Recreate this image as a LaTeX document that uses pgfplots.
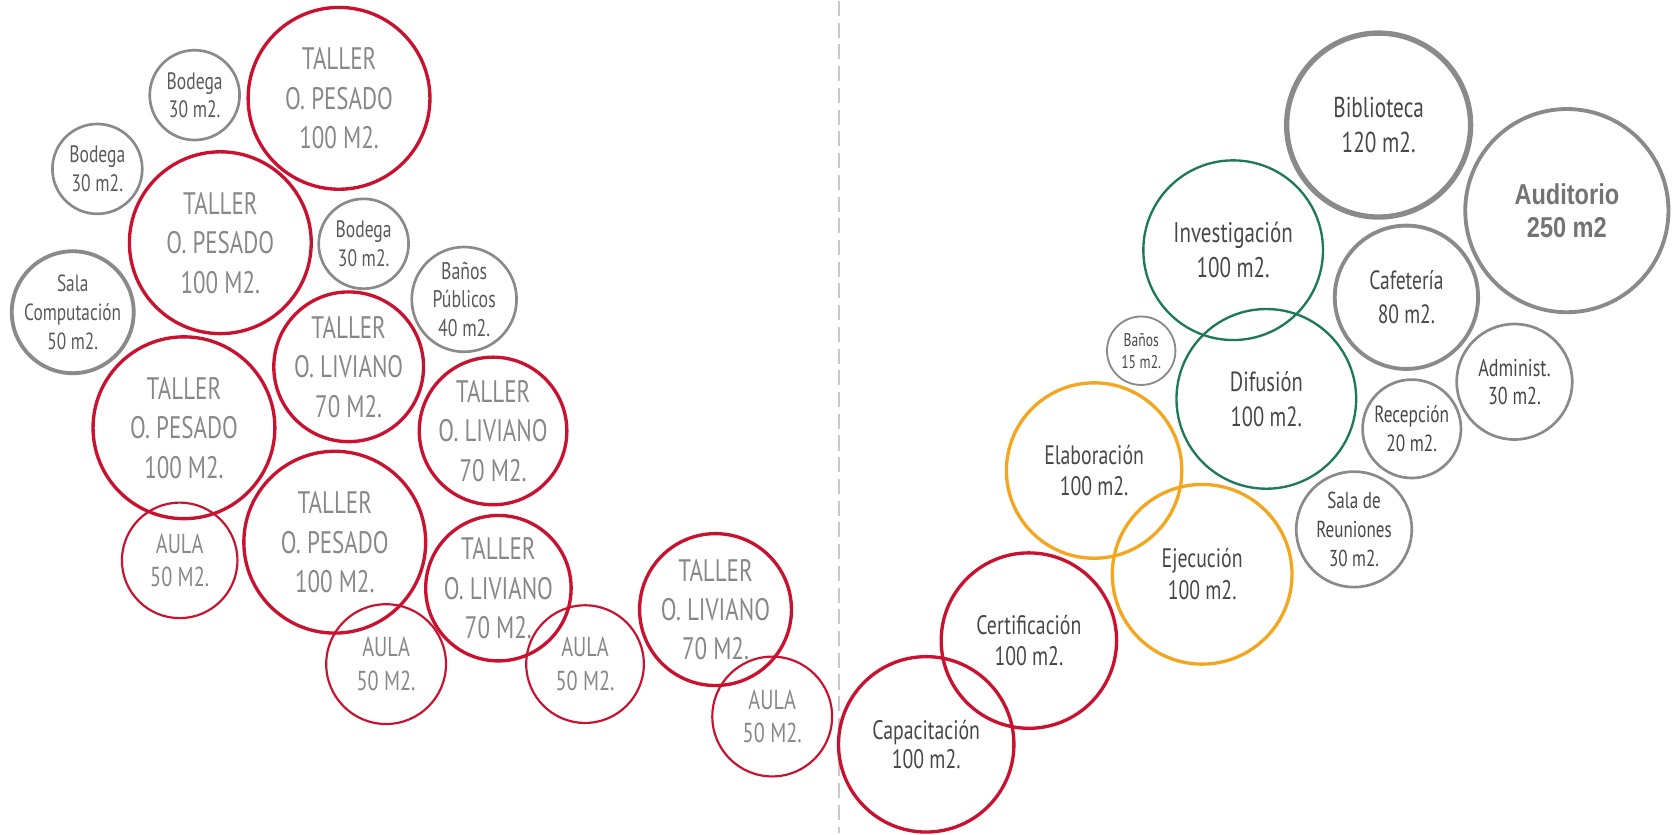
\documentclass[border=0pt]{standalone}
\usepackage{pgfplots}
\pgfplotsset{compat=1.18}
\usepackage{fontspec}
\setmainfont{PT Sans}[FakeStretch=0.74]
\newfontfamily\narrowfont{Liberation Sans}[FakeStretch=0.82]
\definecolor{redc}{RGB}{200,18,48}
\definecolor{orc}{RGB}{243,167,32}
\definecolor{grc}{RGB}{30,120,90}
\definecolor{gyc}{RGB}{138,138,138}
\definecolor{tlight}{RGB}{136,136,136}
\definecolor{tmid}{RGB}{90,90,90}
\definecolor{tdark}{RGB}{72,72,72}
\definecolor{taud}{RGB}{115,115,115}
\definecolor{dashc}{RGB}{200,200,200}
% style, x, y, radius, font size, baselineskip, text colour, label
\newcommand{\bub}[8]{%
  \addplot[#1, only marks, mark=o, mark size={#4*0.32pt},
    nodes near coords={#8},
    every node near coord/.append style={anchor=center, align=center, inner sep=0pt,
      text=#7, font=\fontsize{#5}{#6}\selectfont}]
    coordinates {(#2,#3)};}
\begin{document}
\begin{tikzpicture}
\begin{axis}[
  x=0.32pt, y=0.32pt, y dir=reverse,
  xmin=0, xmax=1568, ymin=0, ymax=778,
  axis line style={draw=none}, ticks=none, clip=false,
  redT/.style={draw=redc, mark options={line width=1.0pt}},
  redt/.style={draw=redc, mark options={line width=0.65pt}},
  orT/.style={draw=orc, mark options={line width=1.0pt}},
  grT/.style={draw=grc, mark options={line width=0.7pt}},
  gyT/.style={draw=gyc, mark options={line width=1.15pt}},
  gyB/.style={draw=gyc, mark options={line width=1.6pt}},
  gyt/.style={draw=gyc, mark options={line width=0.8pt}},
  gyx/.style={draw=gyc, mark options={line width=0.55pt}},
]
\addplot[dashc, line width=0.6pt, dash pattern=on 4.5pt off 2pt] coordinates {(784,0) (784,778)};
% left cluster
\bub{redT}{317}{91}{85}{9.3}{11.8}{tlight}{TALLER\\O. PESADO\\100 M2.}
\bub{gyt}{182}{88}{42}{7.1}{8.5}{tmid}{Bodega\\30 m2.}
\bub{gyt}{91}{157}{42}{7.1}{8.5}{tmid}{Bodega\\30 m2.}
\bub{redT}{206}{226}{85}{9.3}{11.8}{tlight}{TALLER\\O. PESADO\\100 M2.}
\bub{gyt}{340}{227}{42}{7.1}{8.5}{tmid}{Bodega\\30 m2.}
\bub{gyT}{68}{291}{57}{7.0}{8.6}{tmid}{Sala\\Computación\\50 m2.}
\bub{gyt}{434}{279}{49}{7.2}{8.5}{tmid}{Baños\\Públicos\\40 m2.}
\bub{redT}{326}{342}{70}{9.3}{11.8}{tlight}{TALLER\\O. LIVIANO\\70 M2.}
\bub{redT}{172}{399}{85}{9.3}{11.8}{tlight}{TALLER\\O. PESADO\\100 M2.}
\bub{redT}{461}{402}{69}{9.3}{11.8}{tlight}{TALLER\\O. LIVIANO\\70 M2.}
\bub{redt}{168}{523}{54}{8.2}{10}{tlight}{AULA\\50 M2.}
\bub{redT}{313}{506}{85}{9.3}{11.8}{tlight}{TALLER\\O. PESADO\\100 M2.}
\bub{redT}{466}{549}{68}{9.3}{11.8}{tlight}{TALLER\\O. LIVIANO\\70 M2.}
\bub{redt}{361}{620}{56}{8.2}{10}{tlight}{AULA\\50 M2.}
\bub{redt}{547}{620}{55}{8.2}{10}{tlight}{AULA\\50 M2.}
\bub{redT}{669}{569}{71}{9.3}{11.8}{tlight}{TALLER\\O. LIVIANO\\70 M2.}
\bub{redt}{722}{669}{56}{8.2}{10}{tlight}{AULA\\50 M2.}
% right cluster
\bub{redT}{866}{695}{82}{8.0}{8.8}{tdark}{Capacitación\\100 m2.}
\bub{redT}{962}{598}{82}{8.0}{9.2}{tdark}{Certificación\\100 m2.}
\bub{orT}{1023}{439}{82}{8.0}{9.4}{tdark}{Elaboración\\100 m2.}
\bub{orT}{1124}{536}{84}{8.0}{9.5}{tdark}{Ejecución\\100 m2.}
\bub{grT}{1184}{372}{84}{8.3}{10.5}{tdark}{Difusión\\100 m2.}
\bub{grT}{1153}{233}{84}{8.5}{10.5}{tdark}{Investigación\\100 m2.}
\bub{gyx}{1067}{327}{32}{5.5}{6.5}{tdark}{Baños\\15 m2.}
\bub{gyB}{1289}{116}{86}{8.6}{10.5}{tdark}{Biblioteca\\120 m2.}
\bub{gyT}{1465}{196}{95}{8.6}{10}{taud}{\narrowfont\bfseries Auditorio\\\narrowfont\bfseries 250 m2}
\bub{gyT}{1315}{277}{67}{7.9}{10}{tdark}{Cafetería\\80 m2.}
\bub{gyt}{1416}{356}{54}{7.3}{8.5}{tdark}{Administ.\\30 m2.}
\bub{gyt}{1320}{400}{46}{7.0}{8.8}{tdark}{Recepción\\20 m2.}
\bub{gyt}{1266}{494}{54}{6.9}{8.6}{tdark}{Sala de\\Reuniones\\30 m2.}
\end{axis}
\end{tikzpicture}
\end{document}
